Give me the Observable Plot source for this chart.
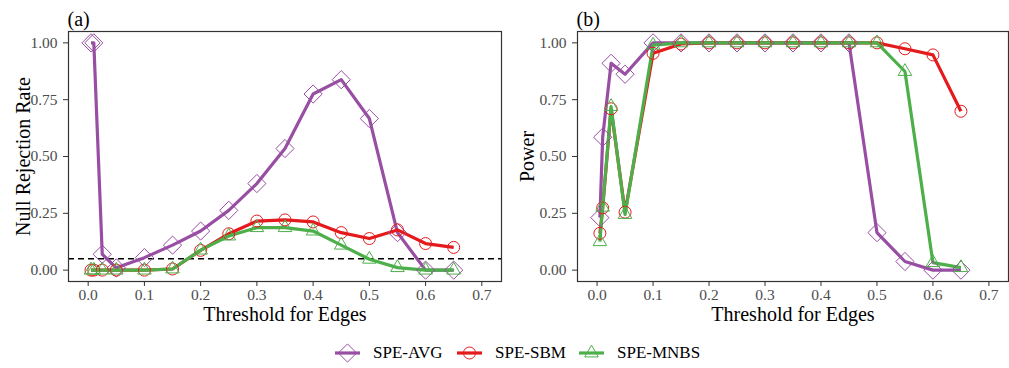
<!DOCTYPE html>
<html><head><meta charset="utf-8">
<script src="https://cdn.jsdelivr.net/npm/d3@7"></script>
<script src="https://cdn.jsdelivr.net/npm/@observablehq/plot@0.6"></script>
<style>
body{margin:0;background:#fff;font-family:"Liberation Serif",serif;}
#wrap{position:relative;width:1009px;height:368px;overflow:hidden;}
.panel{position:absolute;top:0;}
.leg{position:absolute;top:342px;height:22px;display:flex;align-items:center;font-size:17px;color:#000;white-space:nowrap;}
.leg svg{margin-right:13px;}
</style></head>
<body>
<div id="wrap"></div>
<script>
const thresholds = [0.005, 0.01, 0.025, 0.05, 0.1, 0.15, 0.2, 0.25, 0.3, 0.35, 0.4, 0.45, 0.5, 0.55, 0.6, 0.65];
const seriesNames = ["SPE-AVG", "SPE-SBM", "SPE-MNBS"];

// Panel (a): null rejection rate
const avgNull  = [1.00, 1.00, 0.070, 0.010, 0.055, 0.110, 0.172, 0.263, 0.381, 0.535, 0.775, 0.838, 0.667, 0.165, 0.000, 0.000];
const sbmNull  = [0.000, 0.000, 0.000, 0.000, 0.000, 0.005, 0.087, 0.160, 0.216, 0.221, 0.212, 0.165, 0.139, 0.177, 0.117, 0.100];
const mnbsNull = [0.000, 0.000, 0.000, 0.000, 0.000, 0.005, 0.088, 0.150, 0.187, 0.187, 0.172, 0.110, 0.048, 0.011, 0.000, 0.000];

// Panel (b): power
const avgPow  = [0.231, 0.585, 0.910, 0.862, 1.000, 1.000, 1.000, 1.000, 1.000, 1.000, 1.000, 1.000, 0.165, 0.038, 0.000, 0.000];
const sbmPow  = [0.162, 0.274, 0.710, 0.255, 0.954, 0.995, 1.000, 1.000, 1.000, 1.000, 1.000, 1.000, 1.000, 0.974, 0.947, 0.699];
const mnbsPow = [0.125, 0.277, 0.720, 0.245, 0.990, 1.000, 1.000, 1.000, 1.000, 1.000, 1.000, 1.000, 1.000, 0.874, 0.033, 0.011];

const xTicks = [0, 0.1, 0.2, 0.3, 0.4, 0.5, 0.6, 0.7];
const yTicks = [0, 0.25, 0.5, 0.75, 1];
const nominalLevel = [0.05];

const colors = ["#984EA3", "#E41A1C", "#4DAF4A"];
const symbols = ["diamond2", "circle", "triangle2"];
const radii = [8.2, 6, 6.5];

function rows(arrs) {
  return seriesNames.flatMap((s, i) => thresholds.map((t, j) => ({x: t, y: arrs[i][j], s})));
}

function panel({arrs, ylabel, ylabelDx, tag, dashed, width, marginLeft, marginRight}) {
  const data = rows(arrs);
  const marks = [];
  if (dashed) marks.push(Plot.ruleY(nominalLevel, {stroke: "#000", strokeWidth: 1.4, strokeDasharray: "6,4"}));
  marks.push(Plot.line(data, {x: "x", y: "y", z: "s", stroke: "s", strokeWidth: 3.2, strokeLinejoin: "round", strokeLinecap: "butt"}));
  seriesNames.forEach((s, i) => {
    marks.push(Plot.dot(data.filter(d => d.s === s), {x: "x", y: "y", symbol: () => symbols[i], r: radii[i], stroke: colors[i], strokeWidth: 1, fill: "none"}));
  });
  marks.push(Plot.frame({stroke: "#333", strokeWidth: 1.2}));
  // tick marks
  marks.push(Plot.axisX({ticks: xTicks, tickSize: 5, stroke: "#333", text: null, label: null}));
  marks.push(Plot.axisY({ticks: yTicks, tickSize: 5, stroke: "#333", text: null, label: null}));
  // tick labels
  marks.push(Plot.text(xTicks, {x: d => d, frameAnchor: "bottom", lineAnchor: "middle", dy: 14, text: d3.format(".1f"), fontSize: 15.5, fill: "#4d4d4d"}));
  marks.push(Plot.text(yTicks, {y: d => d, frameAnchor: "left", textAnchor: "end", lineAnchor: "middle", dx: -11, text: d3.format(".2f"), fontSize: 15.5, fill: "#4d4d4d"}));
  // axis titles
  marks.push(Plot.text(["Threshold for Edges"], {frameAnchor: "bottom", lineAnchor: "middle", dy: 33.5, fontSize: 20, fill: "#000"}));
  marks.push(Plot.text([ylabel], {frameAnchor: "left", rotate: -90, textAnchor: "middle", lineAnchor: "middle", dx: ylabelDx, fontSize: 20, fill: "#000"}));
  marks.push(Plot.text([tag], {frameAnchor: "top-left", textAnchor: "start", lineAnchor: "bottom", dy: -6, dx: -1, fontSize: 20, fill: "#000"}));
  return Plot.plot({
    width, height: 330,
    marginLeft, marginRight, marginTop: 31, marginBottom: 49,
    style: {fontFamily: "Liberation Serif", background: "white", color: "#000", overflow: "visible"},
    x: {domain: [-0.035, 0.735], axis: null},
    y: {domain: [-0.05, 1.05], axis: null},
    symbol: {type: "identity"},
    color: {domain: seriesNames, range: colors},
    marks
  });
}

const wrap = document.getElementById("wrap");
const p1 = panel({arrs: [avgNull, sbmNull, mnbsNull], ylabel: "Null Rejection Rate", ylabelDx: -45, tag: "(a)", dashed: true, width: 505, marginLeft: 68, marginRight: 4});
const p2 = panel({arrs: [avgPow, sbmPow, mnbsPow], ylabel: "Power", ylabelDx: -50, tag: "(b)", dashed: false, width: 504, marginLeft: 72, marginRight: 1});
const d1 = document.createElement("div"); d1.className = "panel"; d1.style.left = "0px"; d1.appendChild(p1);
const d2 = document.createElement("div"); d2.className = "panel"; d2.style.left = "505px"; d2.appendChild(p2);
wrap.appendChild(d1); wrap.appendChild(d2);

// Legend
const legLeft = [335, 457, 579];
seriesNames.forEach((s, i) => {
  const item = document.createElement("div");
  item.className = "leg";
  item.style.left = legLeft[i] + "px";
  const sym = d3.create("svg").attr("width", 25).attr("height", 22);
  sym.append("line").attr("x1", 0).attr("x2", 25).attr("y1", 11).attr("y2", 11).attr("stroke", colors[i]).attr("stroke-width", 3.2);
  const symType = [d3.symbolDiamond2, d3.symbolCircle, d3.symbolTriangle2][i];
  sym.append("path").attr("transform", "translate(12.5,11)")
    .attr("d", d3.symbol(symType, Math.PI * radii[i] * radii[i])())
    .attr("fill", "none").attr("stroke", colors[i]).attr("stroke-width", 1);
  item.appendChild(sym.node());
  const t = document.createElement("span"); t.textContent = s;
  item.appendChild(t);
  wrap.appendChild(item);
});
</script>
</body></html>
